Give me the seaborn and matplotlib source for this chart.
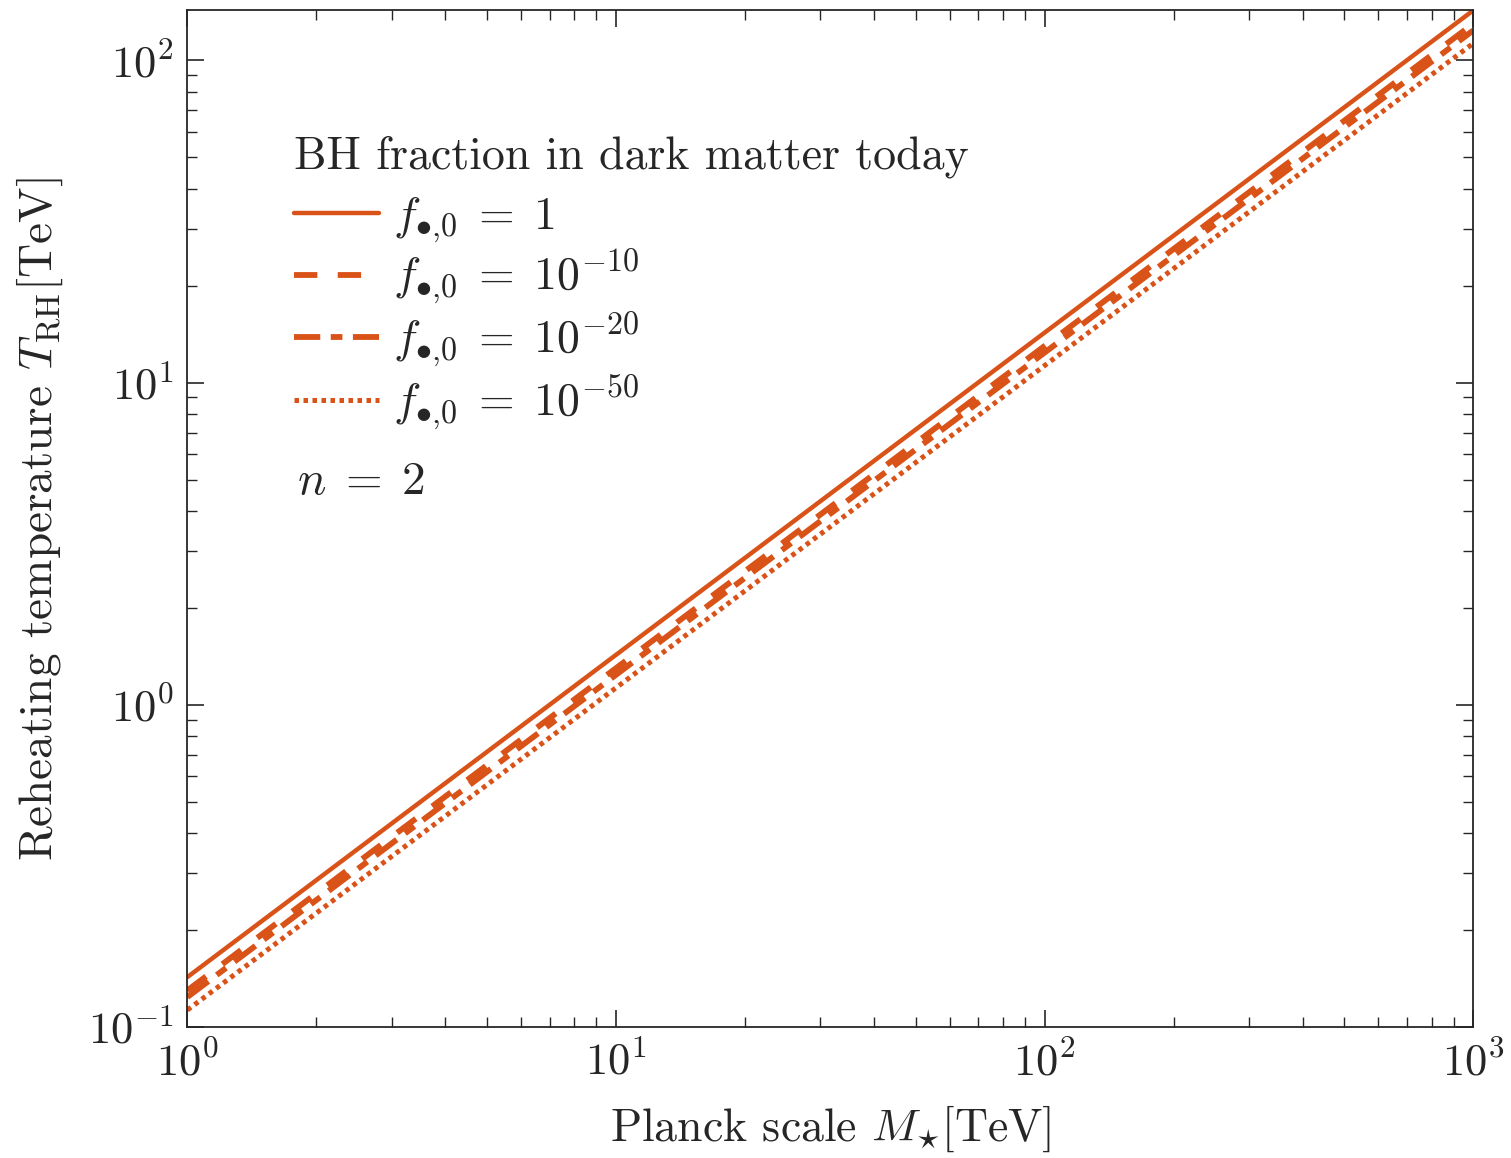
import numpy as np
import pandas as pd
import matplotlib
matplotlib.use("Agg")
import matplotlib.pyplot as plt
import seaborn as sns

# Planck scale M_* [TeV] (end points of the straight log-log lines)
planck_scale = [1.0, 1000.0]
# Reheating temperature T_RH [TeV] for each BH fraction
trh_f1 = [0.143, 143.0]
trh_f1e10 = [0.130, 130.0]
trh_f1e20 = [0.124, 124.0]
trh_f1e50 = [0.113, 113.0]

series_labels = [r"$f_{\bullet{,}0}\;=\;1$", r"$f_{\bullet{,}0}\;=\;10^{-10}$",
                 r"$f_{\bullet{,}0}\;=\;10^{-20}$", r"$f_{\bullet{,}0}\;=\;10^{-50}$"]
series_values = [trh_f1, trh_f1e10, trh_f1e20, trh_f1e50]
line_styles = ["-", (0, (4, 3.5)), (0, (4.5, 1.8, 2, 1.8)), (0, (0.9, 0.9))]
line_widths = [3.2, 4.2, 4.2, 3.6]

sns.set_style("ticks")
plt.rcParams["font.family"] = ["cmr10", "DejaVu Serif"]
plt.rcParams["mathtext.fontset"] = "cm"
plt.rcParams["axes.formatter.use_mathtext"] = True
plt.rcParams["axes.unicode_minus"] = False

color = "#D95319"

fig = plt.figure(figsize=(15.11, 11.58), dpi=100)
ax = fig.add_axes([0.124, 0.113, 0.851, 0.878])

for lab, vals, ls, lw in zip(series_labels, series_values, line_styles, line_widths):
    df = pd.DataFrame({"M": planck_scale, "T": vals})
    sns.lineplot(data=df, x="M", y="T", ax=ax, color=color, linestyle=ls,
                 linewidth=lw, label=lab)

ax.set_xscale("log")
ax.set_yscale("log")
ax.set_xlim(1, 1000)
ax.set_ylim(0.1, 143)

ax.set_xlabel(r"Planck scale $M_{\star}[\mathrm{TeV}]$", fontsize=33, labelpad=14)
ax.set_ylabel(r"Reheating temperature $T_{\mathrm{RH}}[\mathrm{TeV}]$", fontsize=34, labelpad=16)

ax.tick_params(which="both", direction="in", top=True, right=True, colors="#262626")
ax.tick_params(which="major", length=12, width=1.2, labelsize=32, pad=10)
ax.tick_params(which="minor", length=7, width=1.0)
for s in ax.spines.values():
    s.set_linewidth(1.3)
    s.set_color("#262626")

leg = ax.legend(loc="upper left", bbox_to_anchor=(0.083, 0.877), frameon=False,
                title="BH fraction in dark matter today", fontsize=33,
                title_fontsize=33, alignment="left", handlelength=1.85,
                handletextpad=0.3, labelspacing=0.08, borderaxespad=0,
                borderpad=0)
leg._legend_box.sep = 12

ax.text(0.085, 0.536, r"$n\;=\;2$", transform=ax.transAxes, fontsize=34,
        ha="left", va="center")

fig.savefig("out.png", dpi=100)
